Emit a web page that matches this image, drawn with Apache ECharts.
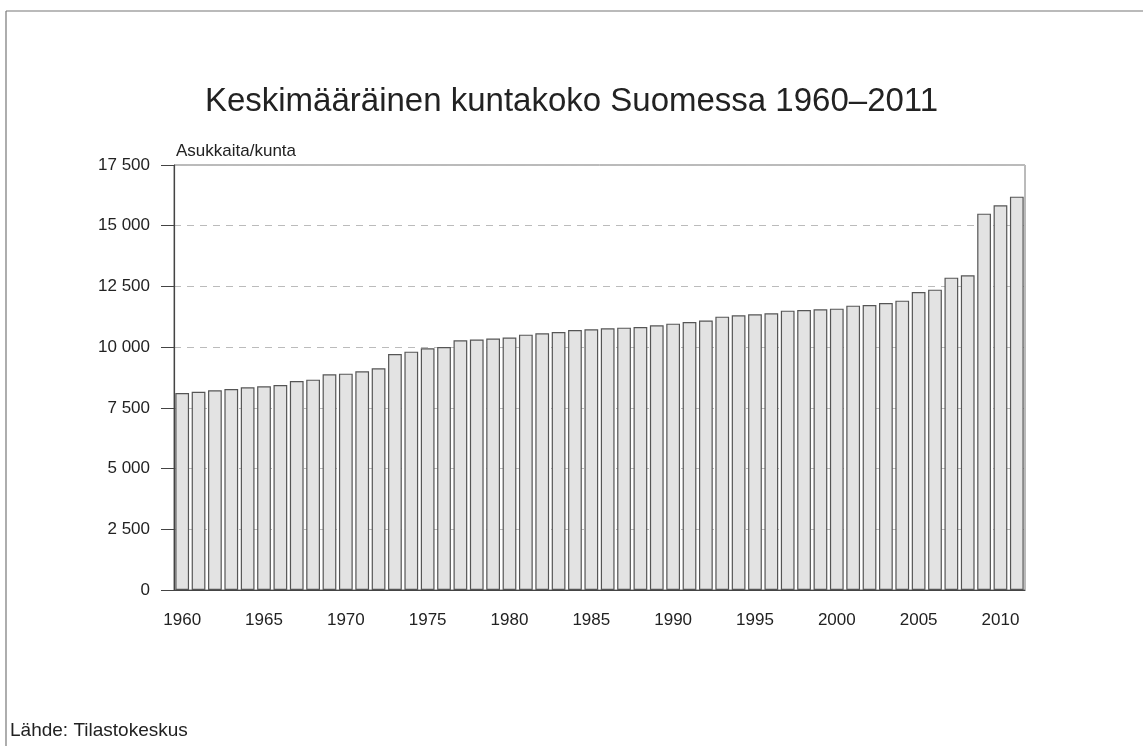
<!DOCTYPE html>
<html>
<head>
<meta charset="utf-8">
<script src="https://cdn.jsdelivr.net/npm/echarts@6/dist/echarts.min.js"></script>
<style>
html,body{margin:0;padding:0;background:#fff;}
#chart{width:1143px;height:746px;}
</style>
</head>
<body>
<div id="chart"></div>
<script>
const years = [];
for (let y = 1960; y <= 2011; y++) years.push(String(y));
const avgSize = [
  8112, 8166, 8221, 8277, 8346, 8387, 8442, 8607, 8661, 8881,
  8908, 9005, 9128, 9719, 9814, 9952, 10007, 10282, 10310, 10351,
  10392, 10515, 10570, 10625, 10707, 10735, 10776, 10803, 10831, 10900,
  10968, 11037, 11092, 11256, 11311, 11352, 11393, 11503, 11530, 11558,
  11585, 11708, 11736, 11819, 11914, 12272, 12367, 12861, 12957, 15497,
  15840, 16197
];
const titleText = 'Keskimääräinen kuntakoko Suomessa 1960–2011';
const yAxisName = 'Asukkaita/kunta';
const sourceText = 'Lähde: Tilastokeskus';

const fmt = v => String(v).replace(/\B(?=(\d{3})+(?!\d))/g, ' ');
const chart = echarts.init(document.getElementById('chart'));
chart.setOption({
  backgroundColor: '#fff',
  animation: false,
  textStyle: { fontFamily: 'Liberation Sans, Arial, sans-serif' },
  title: {
    text: titleText,
    left: 'center',
    top: 80,
    textStyle: { fontFamily: 'Liberation Sans, Arial, sans-serif', fontSize: 33, fontWeight: 'normal', color: '#222' }
  },
  graphic: [
    { type: 'line', shape: { x1: 6, y1: 11, x2: 1143, y2: 11 }, style: { stroke: '#777', lineWidth: 1.2 } },
    { type: 'line', shape: { x1: 6, y1: 11, x2: 6, y2: 746 }, style: { stroke: '#777', lineWidth: 1.2 } },
    { type: 'text', left: 10, top: 721, style: { text: sourceText, fontSize: 19, fill: '#222', fontFamily: 'Liberation Sans, Arial, sans-serif' } }
  ],
  grid: { left: 174, right: 118, top: 165, bottom: 156, show: true, borderColor: '#777', borderWidth: 1 },
  xAxis: {
    type: 'category',
    data: years,
    boundaryGap: true,
    axisLine: { lineStyle: { color: '#444', width: 1.2 } },
    axisTick: { alignWithLabel: true, interval: 0, length: 12, lineStyle: { color: '#444' } },
    axisLabel: { interval: 4, margin: 22, fontSize: 17, color: '#222' }
  },
  yAxis: {
    type: 'value',
    min: 0, max: 17500, interval: 2500,
    name: yAxisName,
    nameLocation: 'end',
    nameGap: 5,
    nameTextStyle: { align: 'left', fontSize: 17, color: '#222', padding: [0, 0, 0, 2] },
    axisLine: { show: true, lineStyle: { color: '#444', width: 1.2 } },
    axisTick: { show: true, length: 13, lineStyle: { color: '#444' } },
    axisLabel: { formatter: fmt, margin: 24, fontSize: 17, color: '#222' },
    splitLine: { show: true, lineStyle: { type: [7, 6], color: '#bbb' } }
  },
  series: [{
    type: 'bar',
    data: avgSize,
    barCategoryGap: '16%',
    itemStyle: { color: '#e3e3e3', borderColor: '#555', borderWidth: 1.2 }
  }]
});
</script>
</body>
</html>
